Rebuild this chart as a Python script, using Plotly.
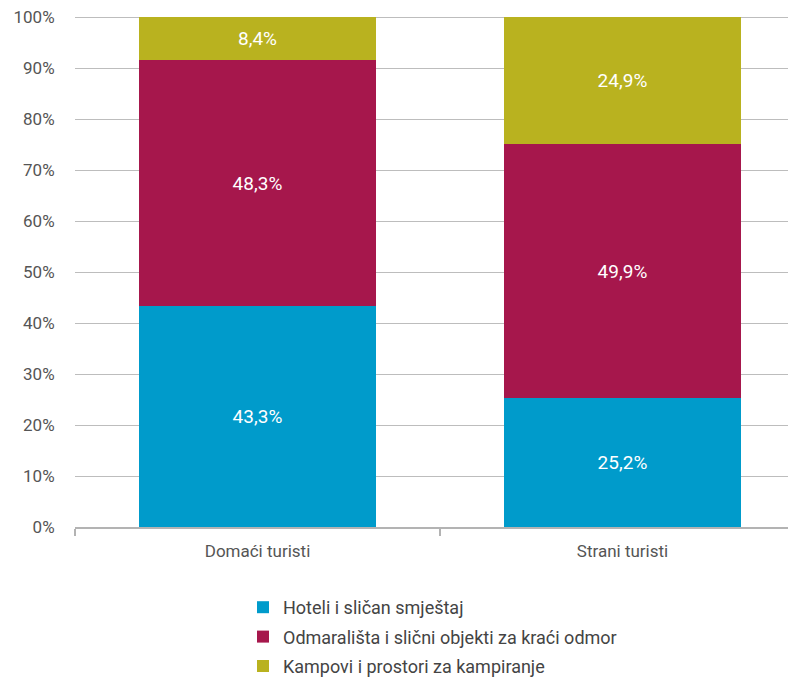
import plotly.graph_objects as go

categories = ["Domaći turisti", "Strani turisti"]
series_names = ["Hoteli i sličan smještaj",
                "Odmarališta i slični objekti za kraći odmor",
                "Kampovi i prostori za kampiranje"]
hoteli = [43.3, 25.2]
odmaralista = [48.3, 49.9]
kampovi = [8.4, 24.9]
y_ticks = [0, 10, 20, 30, 40, 50, 60, 70, 80, 90, 100]
y_tick_labels = ["0%", "10%", "20%", "30%", "40%", "50%", "60%", "70%", "80%", "90%", "100%"]
colors = ["#009BCB", "#A6174C", "#B9B21F"]

FONT = "Roboto"
fig = go.Figure()
for i, (name, vals, col) in enumerate(zip(series_names, [hoteli, odmaralista, kampovi], colors)):
    fig.add_trace(go.Bar(
        x=categories, y=vals, name=name, legendgroup=f"g{i}",
        marker=dict(color=col, line=dict(width=0)),
        width=0.652,
        texttemplate="%{y:.1f}%", textposition="inside", insidetextanchor="middle",
        textangle=0,
        textfont=dict(color="white", size=19, family=FONT),
        hoverinfo="skip",
    ))

OFF = 8  # page offset of the rendered figure
W, H = 796, 679
left, right, top, bottom = 75 - OFF, 796 - OFF, 16 - OFF, 527 - OFF
pw, ph = right - left, bottom - top
leg_left, leg_top = 243 - OFF, 589 - OFF
fig.update_layout(
    width=W, height=H, barmode="stack", separators=",.",
    margin=dict(l=left, r=W - right, t=top, b=H - bottom, autoexpand=False),
    plot_bgcolor="white", paper_bgcolor="white",
    font=dict(family=FONT, color="#555555", size=15),
    showlegend=True,
    legend=dict(orientation="v",
                x=(leg_left - left) / pw, y=-(leg_top - bottom) / ph,
                xanchor="left", yanchor="top", tracegroupgap=3,
                font=dict(size=18, color="#444444", family=FONT),
                traceorder="grouped", itemclick=False),
    xaxis=dict(type="category", range=[-0.5, -0.5 + pw / 365],
               tickson="boundaries", ticks="outside", ticklen=7, tickwidth=2,
               tickcolor="#B3B3B3", showline=True, linecolor="#B3B3B3", linewidth=2,
               showgrid=False, tickangle=0, automargin=False, ticklabelstandoff=8,
               tickfont=dict(size=17, color="#555555")),
    yaxis=dict(range=[0, 100.2], tickmode="array", tickvals=y_ticks, ticktext=y_tick_labels,
               showgrid=True, gridcolor="#BDBDBD", gridwidth=1, zeroline=False,
               showline=False, ticks="outside", ticklen=16, tickcolor="rgba(0,0,0,0)",
               automargin=False, ticklabeloverflow="allow",
               tickfont=dict(size=17, color="#555555")),
)
fig.write_html("out.html")
